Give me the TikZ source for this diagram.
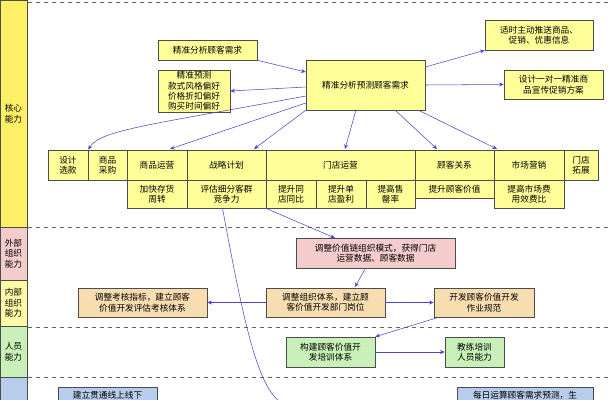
\documentclass[tikz,border=0pt]{standalone}
\usepackage{fontspec}
\setmainfont{Noto Sans CJK SC}
\usetikzlibrary{arrows.meta}
\definecolor{boxy}{HTML}{FFFF99}
\definecolor{boxp}{HTML}{F4CCCC}
\definecolor{boxt}{HTML}{F8DDB0}
\definecolor{boxg}{HTML}{C8F0B8}
\definecolor{boxb}{HTML}{B8CCEC}
\definecolor{arr}{HTML}{4848C8}
\tikzset{
  box/.style={draw=black!70, fill=boxy, font=\fontsize{6.5}{7.8}\selectfont, align=center, inner sep=0pt},
  link/.style={draw=arr, -{Stealth[length=3.5pt,width=3pt]}},
  band/.style={draw=black!70, font=\fontsize{6.5}{8}\selectfont, align=center}
}
% box from corners (x1,y1) to (x2,y2), pixel units
\newcommand{\pbox}[6]{\node[box,#6, minimum width=#4*0.75pt-#2*0.75pt, minimum height=#5*0.75pt-#3*0.75pt] (#1) at ({(#2+#4)/2},{(#3+#5)/2})}
\begin{document}
\begin{tikzpicture}[x=0.75pt,y=-0.75pt]
  \useasboundingbox (0,0) rectangle (608,400);
  \clip (0,0) rectangle (608,400);
  % left bands
  \node[band, fill=yellow!90!orange!60, minimum width=27*0.75pt, minimum height=227*0.75pt] (core) at (13.5,113.5) {核心\\能力};
  \node[band, fill=boxp, minimum width=27*0.75pt, minimum height=53*0.75pt] (outer) at (13.5,253.5) {外部\\组织\\能力};
  \node[band, fill=yellow!35, minimum width=27*0.75pt, minimum height=46*0.75pt] (inner) at (13.5,303) {内部\\组织\\能力};
  \node[band, fill=boxg, minimum width=27*0.75pt, minimum height=51*0.75pt] (staff) at (13.5,351.5) {人员\\能力};
  \node[band, fill=boxb, minimum width=27*0.75pt, minimum height=30*0.75pt] (sys) at (13.5,392) {};
  \foreach \yy in {2,227,327,377}
    \draw[dashed, black!60] (28,\yy) -- (608,\yy);
  % top part
  \pbox{main}{306}{60}{425}{110}{}{精准分析预测顾客需求};
  \pbox{need}{158}{40}{257}{60}{}{精准分析顾客需求};
  \pbox{pred}{158}{70}{230}{112}{}{精准预测\\款式风格偏好\\价格折扣偏好\\购买时间偏好};
  \pbox{push}{485}{20}{593}{50}{}{适时主动推送商品、\\促销、优惠信息};
  \pbox{plan}{504}{70}{603}{99}{}{设计一对一精准商\\品宣传促销方案};
  % function row
  \pbox{design}{48}{150}{88}{180}{}{设计\\选款};
  \pbox{buy}{88}{150}{127}{180}{}{商品\\采购};
  \pbox{goods}{127}{150}{187}{180}{}{商品运营};
  \pbox{strat}{187}{150}{266}{180}{}{战略计划};
  \pbox{store}{266}{150}{415}{180}{}{门店运营};
  \pbox{crm}{415}{150}{494}{180}{}{顾客关系};
  \pbox{mkt}{494}{150}{564}{180}{}{市场营销};
  \pbox{expand}{564}{150}{598}{180}{}{门店\\拓展};
  \pbox{stock}{127}{180}{187}{208}{}{加快存货\\周转};
  \pbox{seg}{187}{180}{266}{208}{}{评估细分客群\\竞争力};
  \pbox{same}{266}{180}{316}{208}{}{提升同\\店同比};
  \pbox{single}{316}{180}{366}{208}{}{提升单\\店盈利};
  \pbox{sell}{366}{180}{415}{208}{}{提高售\\罄率};
  \pbox{value}{415}{180}{494}{198}{}{提升顾客价值};
  \pbox{cost}{494}{180}{564}{208}{}{提高市场费\\用效费比};
  % lower part
  \pbox{chain}{296}{238}{455}{268}{fill=boxp}{调整价值链组织模式，获得门店\\运营数据、顾客数据};
  \pbox{kpi}{78}{288}{207}{317}{fill=boxt}{调整考核指标，建立顾客\\价值开发评估考核体系};
  \pbox{org}{266}{288}{385}{317}{fill=boxt}{调整组织体系，建立顾\\客价值开发部门岗位};
  \pbox{norm}{434}{288}{534}{317}{fill=boxt}{开发顾客价值开发\\作业规范};
  \pbox{train}{286}{337}{375}{367}{fill=boxg}{构建顾客价值开\\发培训体系};
  \pbox{coach}{445}{337}{504}{367}{fill=boxg}{教练培训\\人员能力};
  \pbox{online}{58}{387}{157}{413}{fill=boxb}{建立贯通线上线下\\ };
  \pbox{daily}{457}{387}{593}{413}{fill=boxb}{每日运算顾客需求预测，生\\ };
  % connectors
  \coordinate (goodsin) at (170,149);
  \coordinate (chainin) at (335,238);
  \draw[link] (need.south east) -- (main.west |- 0,72);
  \draw[link] (main.west |- 0,87) -- (pred.east);
  \draw[link] (main.west |- 0,96) .. controls (150,125) and (100,130) .. (design.north east);
  \draw[link] (main.west |- 0,103) -- (goodsin);
  \draw[link] (main.south west) -- (254,149);
  \draw[link] (356,110) -- (345,149);
  \draw[link] (395,110) -- (437,149);
  \draw[link] (418,110) -- (497,149);
  \draw[link] (main.north east |- 0,67) -- (push.south west);
  \draw[link] (main.east |- 0,85) -- (plan.west);
  \draw[link] (same.south west) -- (chainin);
  \draw[draw=arr] (seg.south) ++(-4,0) .. controls (245,330) and (258,385) .. (280,402);
  \draw[link] (chain.south) ++(-10,0) -- (355,287);
  \draw[link] (org.west) -- (kpi.east);
  \draw[link] (org.east) -- (norm.west);
  \draw[link] (norm.south west) ++(5,0) -- (train.north east);
  \draw[link] (train.east) -- (coach.west);
\end{tikzpicture}
\end{document}
